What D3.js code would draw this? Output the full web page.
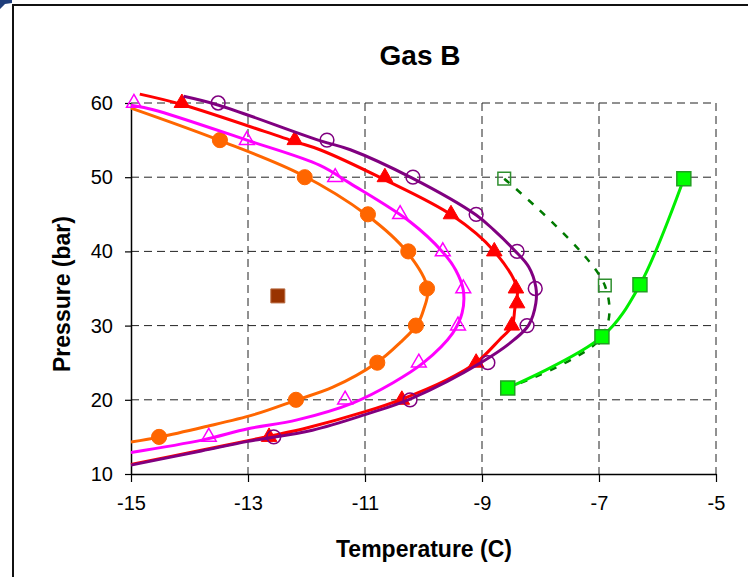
<!DOCTYPE html>
<html>
<head>
<meta charset="utf-8">
<script src="https://cdn.jsdelivr.net/npm/d3@7"></script>
<style>
  body { margin: 0; background: #fff; }
  text { font-family: "Liberation Sans", Arial, sans-serif; }
</style>
</head>
<body>
<div id="chart"></div>
<script>
// curve lines (temperature C, pressure bar)
const orangeLine = [[-15,14.3],[-14.5,15],[-13.77,16.3],[-12.9,18],[-12.16,20],[-11.55,21.7],[-10.8,25],[-10.4,27.7],[-10.11,30.1],[-10.0,32.1],[-9.93,35],[-10.28,39.9],[-10.97,44.9],[-12.1,50.4],[-13.5,55],[-15,59.3]];
const magentaLine = [[-15,12.9],[-13.77,14.6],[-13,16.1],[-12.16,17.3],[-11.2,19.6],[-10.52,22.3],[-10.0,25],[-9.5,29],[-9.34,31.7],[-9.32,34.8],[-9.45,37.5],[-9.67,39.9],[-10.23,44.0],[-11.26,49.2],[-11.77,51.6],[-13.02,55.0],[-14.62,59.1],[-15,59.7]];
const redLine = [[-15,11.3],[-13.8,13.2],[-13,14.5],[-12,16.2],[-11,18.4],[-10.4,20],[-9.6,22.7],[-9.1,25],[-8.7,28.1],[-8.49,29.9],[-8.44,32.2],[-8.4,35],[-8.8,40.1],[-9.5,44.8],[-10.7,49.8],[-11.77,53.7],[-12.2,54.8],[-14.13,59.8],[-14.85,61.2]];
const purpleLine = [[-15,11.2],[-13.8,13.1],[-13.0,14.4],[-11.9,15.9],[-11.0,18.0],[-10.2,20.2],[-9.0,25.1],[-8.45,28.1],[-8.2,30.1],[-8.08,33],[-8.08,35.2],[-8.2,37.9],[-8.45,40.2],[-8.8,42.9],[-9.1,44.9],[-10.2,49.9],[-11.25,53.7],[-11.8,55.0],[-13.5,59.7],[-14.1,60.9]];

// marker points
const orangePts = [[-14.52,15],[-12.18,20],[-10.79,25],[-10.13,30],[-9.94,35],[-10.26,40],[-10.95,45],[-12.03,50],[-13.48,55]];
const magentaPts = [[-14.95,60],[-13.02,55],[-11.51,50],[-10.4,45],[-9.67,40],[-9.32,35],[-9.41,30],[-10.08,25],[-11.34,20],[-13.67,15]];
const redPts = [[-14.13,60],[-12.2,55],[-10.66,50],[-9.53,45],[-8.79,40],[-8.42,35],[-8.4,33],[-8.49,30],[-9.1,25],[-10.37,20],[-12.64,15]];
const purplePts = [[-13.51,60],[-11.65,55],[-10.18,50],[-9.1,45],[-8.4,40],[-8.09,35],[-8.23,30],[-8.9,25],[-10.23,20],[-12.56,15]];
const greenPts = [[-8.56,21.6],[-6.95,28.5],[-6.3,35.5],[-5.55,49.8]];
const darkGreenPts = [[-8.62,49.8],[-6.9,35.4],[-6.95,28.5],[-8.56,21.6]];
const brownPts = [[-12.49,34.0]];

const xTicks = [-15, -13, -11, -9, -7, -5];
const yTicks = [10, 20, 30, 40, 50, 60];

const W = 748, H = 577;
const svg = d3.select("#chart").append("svg").attr("width", W).attr("height", H);

// chart frame
svg.append("path").attr("d", "M0,0 L12,0 L12,3 L5,4 L0,9 Z").attr("fill", "#1f3d7a");
svg.append("path").attr("d", "M13," + H + " V5 H" + W)
  .attr("fill", "none").attr("stroke", "#111").attr("stroke-width", 2);

const x = d3.scaleLinear().domain([-15, -5]).range([131, 716]);
const y = d3.scaleLinear().domain([10, 60]).range([474, 103]);

// gridlines
const grid = svg.append("g").attr("stroke", "#222").attr("stroke-width", 1).attr("stroke-dasharray", "8,5");
xTicks.slice(1).forEach(t => grid.append("line").attr("x1", x(t)).attr("x2", x(t)).attr("y1", y(60)).attr("y2", y(10)));
yTicks.slice(1).forEach(t => grid.append("line").attr("x1", x(-15)).attr("x2", x(-5)).attr("y1", y(t)).attr("y2", y(t)));

// axes
const fmt = d => String(d);
const xAxis = svg.append("g").attr("transform", "translate(0," + y(10) + ")")
  .call(d3.axisBottom(x).tickValues(xTicks).tickFormat(fmt).tickSize(8).tickPadding(14).tickSizeOuter(0));
const yAxis = svg.append("g").attr("transform", "translate(" + x(-15) + ",0)")
  .call(d3.axisLeft(y).tickValues(yTicks).tickFormat(fmt).tickSize(6).tickPadding(12).tickSizeOuter(0));
[xAxis, yAxis].forEach(a => {
  a.select(".domain").attr("stroke", "#000").attr("stroke-width", 1.5);
  a.selectAll(".tick line").attr("stroke", "#000").attr("stroke-width", 1.2);
  a.selectAll("text").attr("font-size", 20).attr("fill", "#000")
    .style("font-family", "'Liberation Sans', Arial, sans-serif");
});

// titles
svg.append("text").attr("x", 420).attr("y", 65).attr("text-anchor", "middle")
  .attr("font-size", 28).attr("font-weight", "bold").text("Gas B");
svg.append("text").attr("x", 424).attr("y", 557).attr("text-anchor", "middle")
  .attr("font-size", 23).attr("font-weight", "bold").text("Temperature (C)");
svg.append("text").attr("transform", "translate(70,294) rotate(-90)").attr("text-anchor", "middle")
  .attr("font-size", 23).attr("font-weight", "bold").text("Pressure (bar)");

const line = d3.line().x(d => x(d[0])).y(d => y(d[1])).curve(d3.curveCatmullRom.alpha(0.5));

function drawLine(data, color, width, dash) {
  svg.append("path").datum(data).attr("d", line).attr("fill", "none")
    .attr("stroke", color).attr("stroke-width", width)
    .attr("stroke-dasharray", dash || null).attr("stroke-linejoin", "round");
}

function drawMarks(data, type, size, fill, stroke, sw) {
  const sym = d3.symbol().type(type).size(size);
  svg.append("g").selectAll("path").data(data).join("path")
    .attr("transform", d => "translate(" + x(d[0]) + "," + y(d[1]) + ")")
    .attr("d", sym).attr("fill", fill).attr("stroke", stroke).attr("stroke-width", sw);
}

drawLine(orangeLine, "#ff6600", 3);
drawMarks(orangePts, d3.symbolCircle, 180, "#ff6600", "#ff6600", 1);

drawLine(magentaLine, "#ff00ff", 3);
drawMarks(magentaPts, d3.symbolTriangle, 95, "none", "#ff00ff", 1.5);

drawLine(redLine, "#ff0000", 3);
drawMarks(redPts, d3.symbolTriangle, 105, "#ff0000", "#ff0000", 1);

drawLine(purpleLine, "#800080", 3);
drawMarks(purplePts, d3.symbolCircle, 150, "none", "#800080", 1.5);

drawLine(darkGreenPts, "#007a00", 2.5, "7,9");
drawMarks(darkGreenPts.slice(0, 2), d3.symbolSquare, 160, "none", "#2f8f2f", 1.5);

drawLine(greenPts, "#00ee00", 3);
drawMarks(greenPts, d3.symbolSquare, 196, "#00ff00", "#22a022", 1.5);

drawMarks(brownPts, d3.symbolSquare, 196, "#993300", "#b86a40", 1);
</script>
</body>
</html>
